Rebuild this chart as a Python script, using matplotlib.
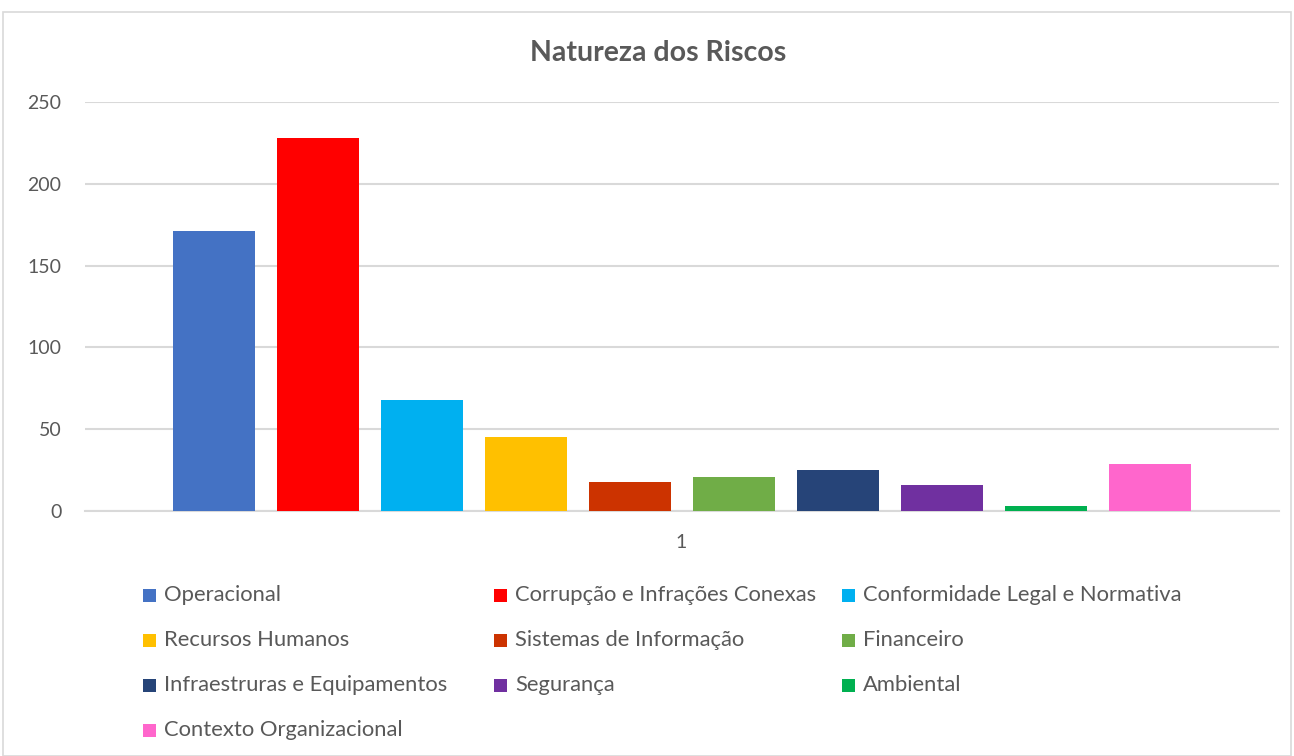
import matplotlib
matplotlib.use("Agg")
from matplotlib import pyplot as plt
from matplotlib.patches import Rectangle

plt.rcParams['font.family'] = ['Lato', 'DejaVu Sans']

TITLE = "Natureza dos Riscos"
categories = ["Operacional", "Corrupção e Infrações Conexas", "Conformidade Legal e Normativa",
              "Recursos Humanos", "Sistemas de Informação", "Financeiro",
              "Infraestruras e Equipamentos", "Segurança", "Ambiental",
              "Contexto Organizacional"]
values = [171, 228, 68, 45, 18, 21, 25, 16, 3, 29]
colors = ["#4472c4", "#ff0000", "#00b0f0", "#ffc000", "#cc3300", "#70ad47",
          "#264478", "#7030a0", "#00b050", "#ff66cc"]
yticks = [0, 50, 100, 150, 200, 250]
xlabel_text = "1"

W, H = 1294, 756
TEXT = "#595959"
GRID = "#d9d9d9"

fig = plt.figure(figsize=(W / 100, H / 100), dpi=100)
fig.patch.set_facecolor("white")

# chart border
fig.patches.append(Rectangle((3 / W, 0), 1288 / W, 1 - 12 / H, transform=fig.transFigure,
                             fill=False, edgecolor=GRID, linewidth=1.2))

ax = fig.add_axes((85 / W, 1 - 511 / H, 1194 / W, 409 / H))
xs = list(range(len(values)))
ax.bar(xs, values, width=0.79, color=colors, zorder=3)
ax.set_xlim(-1.24, 10.24)
ax.set_ylim(0, 250)
ax.set_yticks(yticks)
ax.set_yticklabels([str(t) for t in yticks], color=TEXT, fontsize=14)
ax.tick_params(axis="y", length=0, pad=17)
ax.tick_params(axis="x", length=0)
ax.set_xticks([])
ax.grid(axis="y", color=GRID, linewidth=1.5, zorder=0)
for s in ["top", "right", "left"]:
    ax.spines[s].set_visible(False)
ax.spines["bottom"].set_color(GRID)
ax.spines["bottom"].set_linewidth(1.5)

fig.text(681 / W, 1 - 543 / H, xlabel_text, ha="center", va="center", color=TEXT, fontsize=14)
fig.text(658 / W, 1 - 53 / H, TITLE, ha="center", va="center", color=TEXT,
         fontsize=20.5, fontweight="bold")

# legend, three equal columns filled row by row
col_x = [143, 494, 842]
row_y = [595, 640, 685, 730]
sq = 13
for i, (name, c) in enumerate(zip(categories, colors)):
    r, k = divmod(i, 3)
    x0, y0 = col_x[k], row_y[r]
    fig.patches.append(Rectangle((x0 / W, 1 - (y0 + sq / 2) / H), sq / W, sq / H,
                                 transform=fig.transFigure, facecolor=c, edgecolor="none"))
    fig.text((x0 + 21) / W, 1 - y0 / H, name, ha="left", va="center", color=TEXT, fontsize=15.8)

fig.savefig("out.png", dpi=100)
